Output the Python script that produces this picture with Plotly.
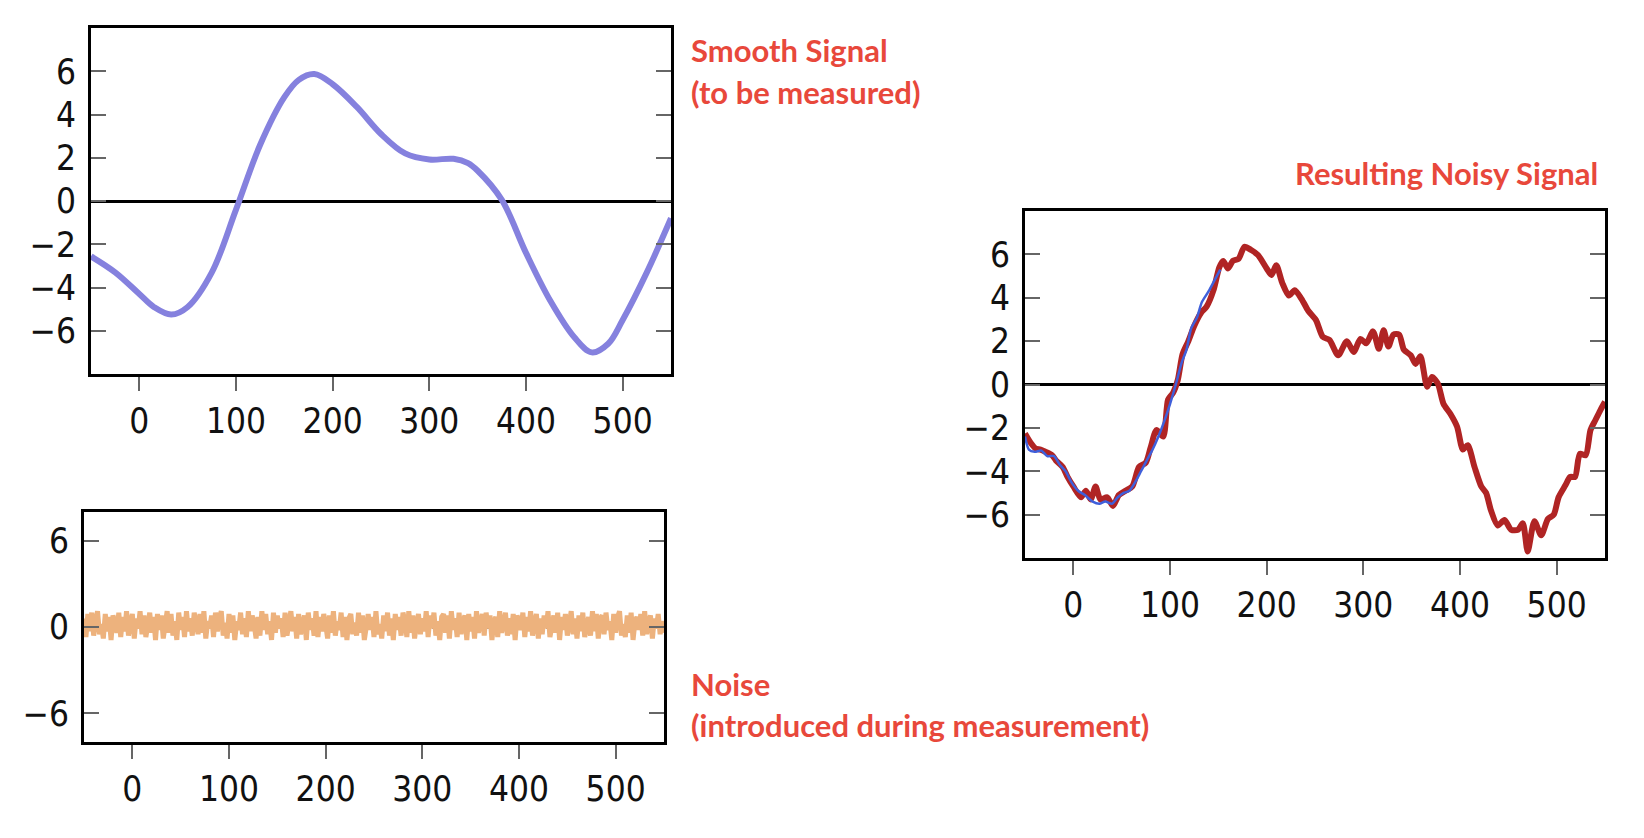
import plotly.graph_objects as go

# ---- Smooth signal (top-left) ----
smooth_x = [-50, -25, 0, 15, 33, 50, 75, 100, 125, 150, 165, 181, 200, 225, 250, 275,
            300, 325, 340, 350, 375, 400, 425, 450, 468, 485, 500, 525, 550]
smooth_y = [-2.56, -3.3, -4.3, -4.9, -5.25, -4.9, -3.3, -0.4, 2.6, 4.8, 5.6, 5.87, 5.4, 4.35, 3.1, 2.2,
            1.92, 1.95, 1.75, 1.4, 0.05, -2.4, -4.6, -6.3, -7.0, -6.6, -5.5, -3.3, -0.8]

# ---- Noise (bottom-left) ----
noise_x = list(range(-50, 551, 2))
noise_y = [0.6, -0.7, 0.9, -0.3, 1.0, -0.6, 0.4, 1.1, -0.5, 0.2, -0.8, 0.9, -0.3, 0.7, -0.9, 0.8, 0.3, -0.4, 1.0, -0.7,
           0.7, -0.3, 1.1, -0.6, 0.3, 0.9, -0.8, 0.6, -0.1, 1.1, -0.5, 0.8, -0.7, 0.4, 1.0, -0.4, 0.7, -0.9, 0.9, -0.2,
           0.8, -0.8, 0.2, 1.1, -0.4, 0.9, -0.6, 0.4, -0.9, 1.0, -0.2, 0.7, -0.7, 1.1, -0.3, 0.6, -0.6, 1.0, 0.3, -0.5,
           0.9, -0.4, 1.1, -0.8, 0.4, -0.1, 0.8, -0.7, 1.0, -0.3, 0.7, 1.1, -0.6, 0.3, -0.8, 0.9, -0.4, 0.8, -0.9, 0.4,
           -0.2, 1.0, -0.5, 0.6, -0.7, 1.1, -0.3, 0.8, 0.2, -0.8, 0.7, -0.6, 1.1, -0.2, 0.9, -0.5, 0.4, -0.9, 1.0, -0.4,
           0.8, -0.1, 0.6, -0.7, 1.0, -0.6, 0.3, 1.1, -0.3, 0.7, -0.8, 0.9, -0.5, 0.4, 0.8, -0.9, 1.0, -0.2, 0.6, -0.6,
           1.1, -0.7, 0.7, -0.3, 0.9, 0.2, -0.8, 0.8, -0.4, 1.1, -0.6, 0.4, -0.2, 1.0, -0.7, 0.7, -0.9, 0.6, 0.9, -0.5,
           0.3, -0.6, 1.0, -0.4, 0.8, -0.9, 0.4, 0.9, -0.2, 0.7, -0.7, 1.1, -0.5, 0.2, -0.8, 0.8, -0.3, 1.0, -0.6, 0.6,
           -0.9, 0.9, -0.2, 0.7, -0.6, 1.0, 0.4, -0.7, 1.1, -0.4, 0.8, -0.8, 0.3, 0.9, -0.5, 0.6, -0.3, 1.1, -0.7, 0.8,
           -0.1, 1.0, -0.6, 0.4, -0.9, 0.7, 0.9, -0.4, 0.8, -0.8, 1.1, -0.2, 0.6, -0.7, 1.0, -0.5, 0.3, 0.8, -0.9, 0.9,
           -0.3, 0.7, -0.8, 1.1, -0.4, 0.3, 0.9, -0.6, 1.0, -0.1, 0.8, -0.9, 0.4, 0.7, -0.7, 1.1, -0.4, 0.2, 1.0, -0.6,
           0.6, -0.5, 0.9, -0.9, 0.8, 0.4, -0.2, 1.0, -0.7, 0.7, -0.3, 1.1, -0.6, 0.3, 0.9, -0.8, 0.6, -0.5, 0.8, -0.1,
           1.1, -0.7, 0.4, 0.8, -0.4, 1.0, -0.9, 0.7, -0.2, 0.9, -0.6, 0.2, 1.1, -0.5, 0.6, -0.8, 0.8, -0.3, 1.0, -0.7,
           0.3, 0.7, -0.6, 1.1, -0.3, 0.9, -0.8, 0.6, 0.8, -0.5, 1.0, -0.2, 0.4, -0.9, 0.9, -0.4, 0.7, 1.1, -0.6, 0.2,
           -0.7, 0.8, -0.4, 1.0, -0.9, 0.4, 0.7, -0.2, 0.9, -0.6, 1.1, -0.5, 0.3, 0.8, -0.8, 0.6, -0.1, 0.9, -0.5, 0.4,
           -0.4]

# ---- Resulting noisy signal (right) ----
noisy_x = [-50, -44, -39, -34, -29, -22, -18, -11, -6, 0,
           8, 13, 18, 23, 28, 35, 41, 47, 54, 61,
           68, 75, 80, 86, 93, 98, 103, 108, 113, 119,
           125, 132, 138, 145, 151, 155, 160, 165, 171, 177,
           184, 191, 200, 205, 210, 216, 223, 229, 236, 243,
           251, 258, 265, 274, 283, 290, 297, 303, 310, 316,
           321, 326, 331, 337, 342, 349, 354, 359, 366, 371,
           377, 383, 390, 397, 403, 408, 415, 422, 427, 432,
           439, 446, 453, 460, 465, 470, 477, 484, 491, 497,
           502, 509, 514, 519, 524, 530, 535, 540, 545, 550]
noisy_y = [-2.26, -2.7, -2.95, -3.0, -3.1, -3.26, -3.5, -3.8, -4.26, -4.7,
           -5.2, -4.9, -5.3, -4.7, -5.3, -5.2, -5.6, -5.1, -4.9, -4.7,
           -3.8, -3.6, -2.9, -2.1, -2.4, -0.7, -0.4, 0.2, 1.4, 2.0,
           2.7, 3.3, 3.6, 4.35, 5.4, 5.7, 5.35, 5.7, 5.8, 6.35,
           6.2, 5.97, 5.35, 5.05, 5.5, 4.7, 4.1, 4.35, 3.95, 3.4,
           2.97, 2.2, 2.05, 1.35, 2.0, 1.5, 2.1, 1.9, 2.45, 1.65,
           2.5, 1.75, 2.3, 2.3, 1.6, 1.35, 0.95, 1.3, -0.1, 0.35,
           0.05, -0.9, -1.35, -1.95, -3.0, -2.8, -3.8, -4.7, -5.0, -5.8,
           -6.5, -6.25, -6.7, -6.7, -6.4, -7.7, -6.3, -6.95, -6.2, -6.0,
           -5.2, -4.65, -4.26, -4.26, -3.2, -3.26, -2.1, -1.65, -1.2, -0.8]

estimate_x = [-50, -46, -40, -33, -27, -20, -14, -8, -2, 5, 12, 20, 27, 33, 40, 46, 52,
              58, 64, 70, 76, 82, 88, 94, 100, 106, 112, 117, 122, 128, 133, 140, 146, 152]
estimate_y = [-2.4, -3.0, -3.1, -3.05, -3.3, -3.3, -3.7, -4.0, -4.5, -4.9, -5.1, -5.4, -5.5, -5.4,
              -5.5, -5.2, -5.0, -4.9, -4.5, -4.0, -3.5, -3.0, -2.4, -1.7, -0.9, 0.0, 1.0, 1.6,
              2.6, 3.1, 3.8, 4.3, 4.8, 5.3]

x_ticks = [0, 100, 200, 300, 400, 500]
y_ticks_full = [-6, -4, -2, 0, 2, 4, 6]
y_ticks_noise = [-6, 0, 6]

LABEL_RED = "#E8483B"
TICK_FONT = dict(family="DejaVu Sans Condensed, DejaVu Sans, sans-serif", size=35, color="#111111")

fig = go.Figure()

fig.add_trace(go.Scatter(x=smooth_x, y=smooth_y, mode="lines", line=dict(color="#8581DE", width=6, shape="spline"),
                         xaxis="x", yaxis="y", showlegend=False))
fig.add_trace(go.Scatter(x=noise_x, y=noise_y, mode="lines", line=dict(color="#EDB27D", width=5),
                         xaxis="x2", yaxis="y2", showlegend=False))
fig.add_trace(go.Scatter(x=noisy_x, y=noisy_y, mode="lines",
                         line=dict(color="#B02424", width=6, shape="spline", smoothing=0.7),
                         xaxis="x3", yaxis="y3", showlegend=False))
fig.add_trace(go.Scatter(x=estimate_x, y=estimate_y, mode="lines",
                         line=dict(color="#3F5FDA", width=2.5, shape="spline", smoothing=0.7),
                         xaxis="x3", yaxis="y3", showlegend=False))

OFF = 8  # default page body margin
W, H = 1644 - OFF, 838 - OFF


def xdom(l, r):
    return [(l - OFF) / W, (r - OFF) / W]


def ydom(t, b):
    return [1 - (b - OFF) / H, 1 - (t - OFF) / H]


def xaxis_cfg(dom, anchor):
    return dict(domain=dom, anchor=anchor, range=[-50, 550], tickvals=x_ticks,
                ticks="outside", ticklen=14, tickwidth=2, tickcolor="#666666",
                showline=True, linecolor="black", linewidth=3, mirror=True,
                showgrid=False, zeroline=False, tickfont=TICK_FONT, ticklabelstandoff=0)


def yaxis_cfg(dom, anchor, tv, zl=True):
    return dict(domain=dom, anchor=anchor, range=[-8, 8], tickvals=tv,
                ticks="inside", ticklen=15, tickwidth=2, tickcolor="#666666",
                showline=True, linecolor="black", linewidth=3, mirror="ticks",
                showgrid=False, zeroline=zl, zerolinecolor="black", zerolinewidth=3,
                tickfont=TICK_FONT, ticklabelstandoff=5)


fig.update_layout(
    width=W, height=H, margin=dict(l=0, r=0, t=0, b=0),
    paper_bgcolor="white", plot_bgcolor="white",
    xaxis=xaxis_cfg(xdom(91, 671), "y"),
    yaxis=yaxis_cfg(ydom(28, 374), "x", y_ticks_full),
    xaxis2=xaxis_cfg(xdom(84, 664), "y2"),
    yaxis2=yaxis_cfg(ydom(512, 742), "x2", y_ticks_noise, zl=False),
    xaxis3=xaxis_cfg(xdom(1025, 1605), "y3"),
    yaxis3=yaxis_cfg(ydom(211, 558), "x3", y_ticks_full),
)

# dotted zero line on the noise panel
fig.add_shape(type="line", xref="x2 domain", yref="y2", x0=0, x1=1, y0=0, y1=0,
              line=dict(color="black", width=3, dash="dot"), layer="below")

ANN_FONT = dict(family="Lato, Noto Sans, sans-serif", size=31, color=LABEL_RED, weight="bold")
labels = [
    ("Smooth Signal", 689, 50, "left"),
    ("(to be measured)", 689, 92, "left"),
    ("Resulting Noisy Signal", 1600, 173, "right"),
    ("Noise", 689, 684, "left"),
    ("(introduced during measurement)", 689, 725, "left"),
]
for txt, px, py, anc in labels:
    fig.add_annotation(text=txt, xref="paper", yref="paper", x=(px - OFF) / W, y=1 - (py - OFF) / H,
                       xanchor=anc, yanchor="middle", showarrow=False, font=ANN_FONT)

fig.write_html("out.html")
